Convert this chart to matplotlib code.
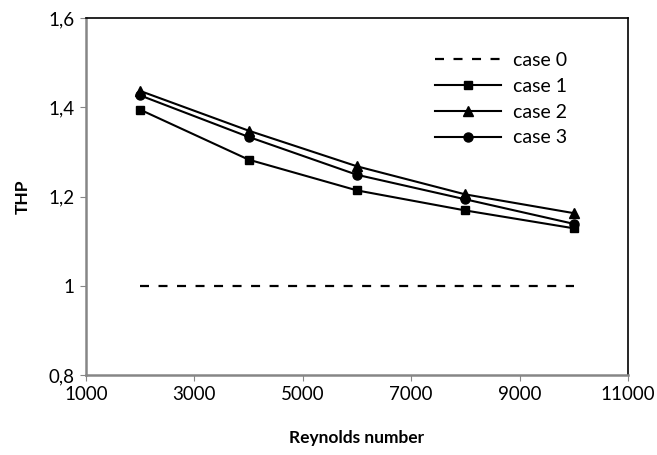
#!/usr/bin/env python3
"""THP vs Reynolds number for cases 0-3."""

import matplotlib

matplotlib.use("Agg")
import matplotlib.pyplot as plt
from matplotlib.ticker import FuncFormatter

plt.rcParams["font.family"] = ["Lato", "DejaVu Sans"]

reynolds = [2000, 4000, 6000, 8000, 10000]
case0 = [1.0, 1.0, 1.0, 1.0, 1.0]
case1 = [1.395, 1.283, 1.214, 1.169, 1.129]
case2 = [1.437, 1.348, 1.268, 1.205, 1.163]
case3 = [1.427, 1.334, 1.249, 1.194, 1.139]


def comma_fmt(v, _pos):
    s = f"{v:.1f}".rstrip("0").rstrip(".")
    return s.replace(".", ",")


fig = plt.figure(figsize=(6.57, 4.55), dpi=100)
ax = fig.add_axes([0.1309, 0.1758, 0.8250, 0.7840])

ax.plot(reynolds, case0, color="black", lw=1.6, ls=(0, (4.05, 4.28)), label="case 0")
ax.plot(reynolds, case1, color="black", lw=1.5, marker="s", ms=6, label="case 1")
ax.plot(reynolds, case2, color="black", lw=1.5, marker="^", ms=6.5, label="case 2")
ax.plot(reynolds, case3, color="black", lw=1.5, marker="o", ms=6.5, label="case 3")

ax.set_xlim(1000, 11000)
ax.set_ylim(0.8, 1.6)
ax.set_xticks(range(1000, 11001, 2000))
ax.set_yticks([0.8, 1.0, 1.2, 1.4, 1.6])
ax.yaxis.set_major_formatter(FuncFormatter(comma_fmt))
ax.tick_params(direction="out", length=4, color="#868686", labelsize=13.5, pad=4)

for side in ("left", "bottom"):
    ax.spines[side].set_color("#868686")
    ax.spines[side].set_linewidth(1.8)
for side in ("top", "right"):
    ax.spines[side].set_color("black")
    ax.spines[side].set_linewidth(1.2)

ax.set_xlabel("Reynolds number", fontsize=12.5, fontweight="bold", labelpad=19)
ax.set_ylabel("THP", fontsize=12.5, fontweight="bold", labelpad=13)

ax.legend(
    loc="upper left",
    bbox_to_anchor=(0.644, 0.905),
    frameon=False,
    fontsize=14,
    borderpad=0,
    borderaxespad=0,
    handlelength=3.4,
    labelspacing=0.45,
    handletextpad=0.6,
)

fig.savefig("out.png", dpi=100)
